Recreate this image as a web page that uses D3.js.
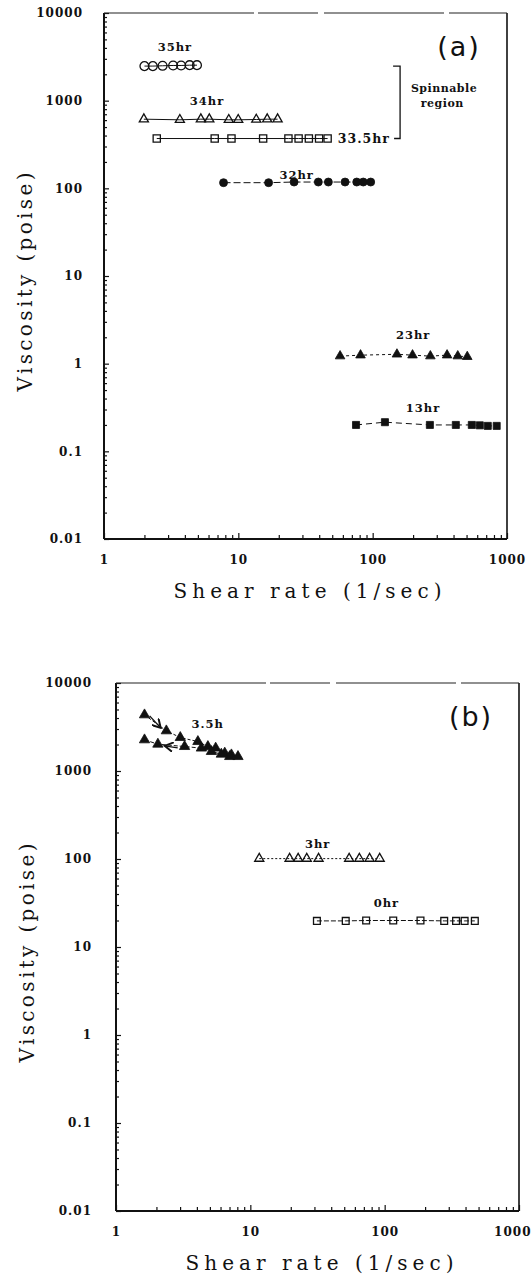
<!DOCTYPE html>
<html>
<head>
<meta charset="utf-8">
<script src="https://cdn.jsdelivr.net/npm/d3@7"></script>
<style>
body { margin: 0; background: #fff; }
text { font-family: "DejaVu Serif", serif; fill: #111; }
</style>
</head>
<body>
<svg id="chart" width="532" height="1274"></svg>
<script>
// axis ticks
var xTickValues = [1, 10, 100, 1000];
var xTickLabels = ["1", "10", "100", "1000"];
var yTickValues = [0.01, 0.1, 1, 10, 100, 1000, 10000];
var yTickLabels = ["0.01", "0.1", "1", "10", "100", "1000", "10000"];

// panel (a): shear rate (1/sec) and viscosity (poise)
var rate35 = [2.0, 2.31, 2.73, 3.27, 3.75, 4.34, 4.92];
var visc35 = [2480, 2480, 2500, 2520, 2520, 2540, 2540];
var rate34 = [1.98, 3.67, 5.26, 6.08, 8.49, 9.98, 13.6, 16.4, 19.6];
var visc34 = [615, 605, 615, 615, 605, 605, 610, 615, 615];
var rate335 = [2.47, 6.67, 8.89, 15.3, 23.6, 28.1, 33.5, 39.9, 46.2];
var visc335 = [370, 370, 370, 370, 370, 370, 370, 370, 370];
var rate32 = [7.76, 16.8, 26.0, 39.4, 46.8, 62.3, 76.1, 85.1, 96.7];
var visc32 = [116, 116, 118, 118, 118, 118, 118, 118, 118];
var rate23 = [57.2, 81.2, 151.6, 198, 268.8, 358, 430, 506];
var visc23 = [1.22, 1.25, 1.28, 1.25, 1.22, 1.25, 1.22, 1.2];
var rate13 = [75.2, 123.4, 266.6, 416, 547, 627, 719, 838];
var visc13 = [0.2, 0.215, 0.2, 0.2, 0.2, 0.198, 0.195, 0.195];

// panel (b)
var rate35up = [1.63, 2.37, 3.01, 4.07, 4.83, 5.52, 6.45, 7.23, 8.09];
var visc35up = [4345, 2860, 2400, 2160, 1895, 1820, 1597, 1526, 1459];
var rate35down = [1.63, 2.05, 3.24, 4.32, 5.13, 6.08, 7.02];
var visc35down = [2260, 2018, 1896, 1820, 1664, 1553, 1459];
var rate3 = [11.65, 19.6, 22.7, 26.3, 32.2, 54.4, 64.8, 77.2, 91.8];
var visc3 = [101, 101, 101, 101, 101, 101, 101, 101, 101];
var rate0 = [31.3, 51.3, 72.8, 115.8, 184.8, 277.5, 340, 393.6, 469];
var visc0 = [19.8, 19.8, 20, 20, 20, 19.8, 19.8, 19.8, 19.8];

// series labels (rate, viscosity where the label sits)
var labelsA = [
  {text: "35hr", x: 3.37, y: 4045},
  {text: "34hr", x: 5.85, y: 991},
  {text: "33.5hr", x: 86, y: 370, big: true},
  {text: "32hr", x: 27.2, y: 142},
  {text: "23hr", x: 200, y: 2.12},
  {text: "13hr", x: 237, y: 0.312}
];
var labelsB = [
  {text: "3.5h", x: 4.81, y: 3405},
  {text: "3hr", x: 31.7, y: 147},
  {text: "0hr", x: 103, y: 32}
];

var svg = d3.select("#chart");
var W = +svg.attr("width");

var defs = svg.append("defs");
defs.append("marker")
    .attr("id", "head")
    .attr("viewBox", "0 0 8 8")
    .attr("refX", 7).attr("refY", 4)
    .attr("markerWidth", 7).attr("markerHeight", 7)
    .attr("orient", "auto")
  .append("path")
    .attr("d", "M0,0 L7,4 L0,8")
    .attr("fill", "none")
    .attr("stroke", "#111")
    .attr("stroke-width", 1.6);

function isMajor(v) {
  var l = Math.log10(v);
  return Math.abs(l - Math.round(l)) < 1e-9;
}

function drawPanel(p, series, labels) {
  var g = svg.append("g");
  var x = d3.scaleLog().domain([1, 1000]).range([p.left, p.right]);
  var y = d3.scaleLog().domain([0.01, 10000]).range([p.bottom, p.top]);

  // minor ticks
  var minorX = x.ticks().filter(function(v) { return !isMajor(v); });
  var minorY = y.ticks().filter(function(v) { return !isMajor(v); });

  g.append("g")
      .attr("transform", "translate(0," + p.bottom + ")")
      .call(d3.axisBottom(x).tickValues(minorX).tickSize(-4).tickFormat(""))
      .call(function(a) { a.select(".domain").remove(); });
  g.append("g")
      .attr("transform", "translate(" + p.left + ",0)")
      .call(d3.axisLeft(y).tickValues(minorY).tickSize(-3).tickFormat(""))
      .call(function(a) { a.select(".domain").remove(); });

  var xa = g.append("g")
      .attr("transform", "translate(0," + p.bottom + ")")
      .call(d3.axisBottom(x).tickValues(xTickValues).tickSize(-6).tickPadding(16)
        .tickFormat(function(d, i) { return xTickLabels[i]; }));
  xa.select(".domain").remove();
  var ya = g.append("g")
      .attr("transform", "translate(" + p.left + ",0)")
      .call(d3.axisLeft(y).tickValues(yTickValues).tickSize(-5).tickPadding(p.ypad)
        .tickFormat(function(d, i) { return yTickLabels[i]; }));
  ya.select(".domain").remove();

  g.selectAll(".tick line").attr("stroke", "#111").attr("stroke-width", 1.2);
  g.selectAll(".tick text")
      .attr("fill", "#111")
      .style("font-family", "DejaVu Serif")
      .style("font-size", "12px")
      .style("font-weight", "bold")
      .style("letter-spacing", "1px");

  // keep the last x label inside the page
  xa.selectAll(".tick text").each(function() {
    var w = this.getComputedTextLength();
    var t = d3.select(this);
    var cx = x(t.datum());
    if (cx + w / 2 > W - 1) {
      t.attr("text-anchor", "end").attr("x", W - 1 - cx);
    }
  });

  // frame
  g.append("line").attr("x1", p.left).attr("x2", p.left).attr("y1", p.top).attr("y2", p.bottom)
      .attr("stroke", "#111").attr("stroke-width", 2);
  g.append("line").attr("x1", p.left).attr("x2", p.right).attr("y1", p.bottom).attr("y2", p.bottom)
      .attr("stroke", "#111").attr("stroke-width", 2);
  g.append("line").attr("x1", p.right).attr("x2", p.right).attr("y1", p.top).attr("y2", p.bottom)
      .attr("stroke", "#111").attr("stroke-width", 1.6);
  g.append("line").attr("x1", p.left).attr("x2", p.right).attr("y1", p.top).attr("y2", p.top)
      .attr("stroke", "#222").attr("stroke-width", 1.2)
      .attr("stroke-dasharray", "150,4,60,6,120,5,200");

  var line = d3.line()
      .x(function(d) { return x(d[0]); })
      .y(function(d) { return y(d[1]); });

  series.forEach(function(s) {
    var pts = s.rate.map(function(r, i) { return [r, s.visc[i]]; });
    g.append("path")
        .datum(pts)
        .attr("d", line)
        .attr("fill", "none")
        .attr("stroke", "#111")
        .attr("stroke-width", 1)
        .attr("stroke-dasharray", s.dash);
    g.selectAll(null)
        .data(pts)
        .enter().append("path")
        .attr("transform", function(d) { return "translate(" + x(d[0]) + "," + y(d[1]) + ")"; })
        .attr("d", d3.symbol().type(s.symbol).size(s.size))
        .attr("fill", s.filled ? "#111" : "none")
        .attr("stroke", "#111")
        .attr("stroke-width", s.filled ? 0.8 : 1.3);
  });

  labels.forEach(function(l) {
    g.append("text")
        .attr("x", x(l.x))
        .attr("y", y(l.y))
        .attr("text-anchor", "middle")
        .attr("dominant-baseline", "central")
        .style("font-size", l.big ? "12.5px" : "11.5px")
        .style("font-weight", "bold")
        .style("letter-spacing", "1px")
        .text(l.text);
  });

  // axis titles
  g.append("text")
      .attr("x", (p.left + p.right) / 2 + 2)
      .attr("y", p.bottom + 52)
      .attr("text-anchor", "middle")
      .attr("dominant-baseline", "central")
      .attr("textLength", 268)
      .attr("lengthAdjust", "spacing")
      .style("font-size", "20px")
      .text("Shear rate (1/sec)");
  g.append("text")
      .attr("transform", "translate(" + p.ytitleX + "," + ((p.top + p.bottom) / 2 + 6) + ") rotate(-90)")
      .attr("text-anchor", "middle")
      .attr("dominant-baseline", "central")
      .attr("textLength", 219)
      .attr("lengthAdjust", "spacing")
      .style("font-size", "20px")
      .text("Viscosity (poise)");

  // panel tag
  g.append("text")
      .attr("x", p.right - 48)
      .attr("y", p.top + 33)
      .attr("text-anchor", "middle")
      .attr("dominant-baseline", "central")
      .style("font-family", "DejaVu Sans")
      .style("font-size", "27px")
      .style("letter-spacing", "2px")
      .text(p.tag);

  return {g: g, x: x, y: y};
}

var pa = drawPanel(
  {left: 104, right: 507, top: 13, bottom: 539, ypad: 21, ytitleX: 25, tag: "(a)"},
  [
    {rate: rate35, visc: visc35, symbol: d3.symbolCircle, size: 62, filled: false, dash: null},
    {rate: rate34, visc: visc34, symbol: d3.symbolTriangle, size: 36, filled: false, dash: null},
    {rate: rate335, visc: visc335, symbol: d3.symbolSquare, size: 52, filled: false, dash: null},
    {rate: rate32, visc: visc32, symbol: d3.symbolCircle, size: 50, filled: true, dash: "7,3"},
    {rate: rate23, visc: visc23, symbol: d3.symbolTriangle, size: 40, filled: true, dash: "3,3"},
    {rate: rate13, visc: visc13, symbol: d3.symbolSquare, size: 50, filled: true, dash: "6,4"}
  ],
  labelsA
);

// bracket marking the spinnable region, from the 35hr level down to the 33.5hr level
var bx = pa.x(160), bTop = pa.y(2480), bBot = pa.y(370);
pa.g.append("path")
    .attr("d", "M" + (bx - 7) + "," + bTop + "H" + bx + "V" + bBot + "H" + (bx - 6))
    .attr("fill", "none")
    .attr("stroke", "#111")
    .attr("stroke-width", 1.3);
pa.g.append("text")
    .attr("x", pa.x(340)).attr("y", pa.y(1360))
    .attr("text-anchor", "middle").attr("dominant-baseline", "central")
    .style("font-size", "11px").style("font-weight", "bold").style("letter-spacing", "0.5px")
    .text("Spinnable");
pa.g.append("text")
    .attr("x", pa.x(330)).attr("y", pa.y(940))
    .attr("text-anchor", "middle").attr("dominant-baseline", "central")
    .style("font-size", "11px").style("font-weight", "bold").style("letter-spacing", "0.5px")
    .text("region");

var pb = drawPanel(
  {left: 116, right: 519, top: 683, bottom: 1211, ypad: 24, ytitleX: 27, tag: "(b)"},
  [
    {rate: rate35up, visc: visc35up, symbol: d3.symbolTriangle, size: 46, filled: true, dash: "3,2"},
    {rate: rate35down, visc: visc35down, symbol: d3.symbolTriangle, size: 46, filled: true, dash: "4,2"},
    {rate: rate3, visc: visc3, symbol: d3.symbolTriangle, size: 36, filled: false, dash: "2,2"},
    {rate: rate0, visc: visc0, symbol: d3.symbolSquare, size: 46, filled: false, dash: "5,2"}
  ],
  labelsB
);

// sweep direction arrows for 3.5h
pb.g.append("line")
    .attr("x1", pb.x(1.78)).attr("y1", pb.y(4230))
    .attr("x2", pb.x(2.15)).attr("y2", pb.y(3090))
    .attr("stroke", "#111").attr("stroke-width", 1.4)
    .attr("marker-end", "url(#head)");
pb.g.append("line")
    .attr("x1", pb.x(2.88)).attr("y1", pb.y(1832))
    .attr("x2", pb.x(2.3)).attr("y2", pb.y(1930))
    .attr("stroke", "#111").attr("stroke-width", 1.4)
    .attr("marker-end", "url(#head)");
</script>
</body>
</html>
